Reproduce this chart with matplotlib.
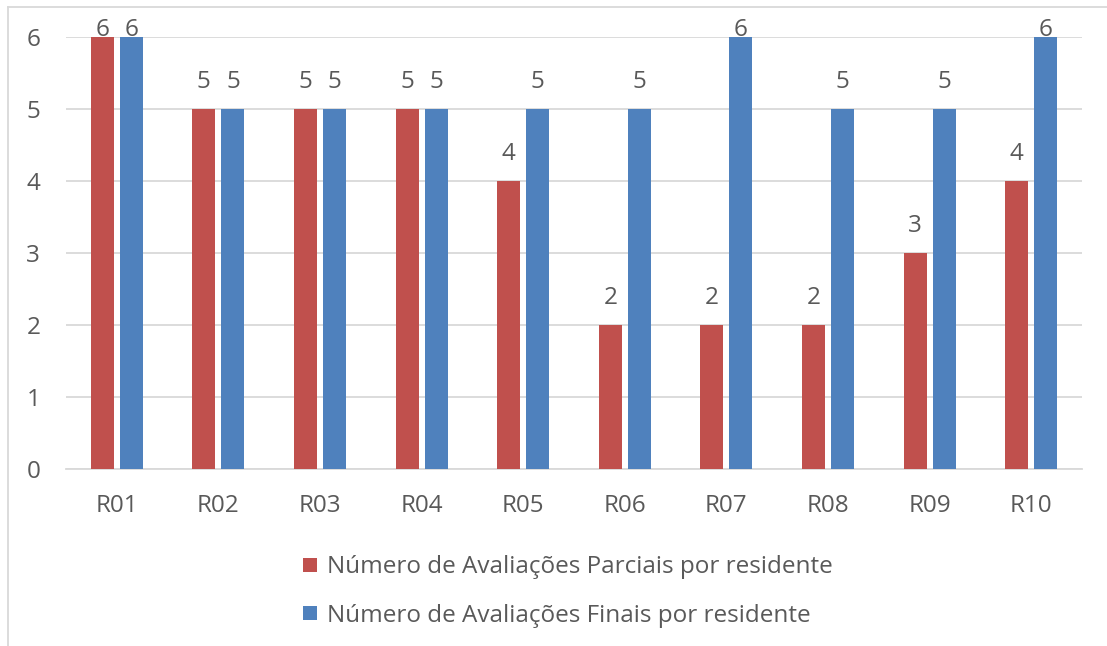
import matplotlib.pyplot as plt
from matplotlib.lines import Line2D
import numpy as np

residentes = ["R01", "R02", "R03", "R04", "R05", "R06", "R07", "R08", "R09", "R10"]
parciais = [6, 5, 5, 5, 4, 2, 2, 2, 3, 4]
finais = [6, 5, 5, 5, 5, 5, 6, 5, 5, 6]
nomes = ["Número de Avaliações Parciais por residente",
         "Número de Avaliações Finais por residente"]
cores = ["#C0504D", "#4F81BD"]
texto = "#595959"
grade = "#D9D9D9"

plt.rcParams['font.family'] = ['Open Sans', 'DejaVu Sans']

fig = plt.figure(figsize=(11.07, 6.46), dpi=100)
W, H = 1107, 646
ax = fig.add_axes([66 / W, 1 - 469 / H, (1082 - 66) / W, (469 - 37) / H])

x = np.arange(len(residentes))
largura = 0.226
desloc = 0.143
for serie, nome, cor, d in [(parciais, nomes[0], cores[0], -desloc),
                            (finais, nomes[1], cores[1], desloc)]:
    ax.bar(x + d, serie, largura, color=cor, label=nome, zorder=3)
    for xi, v in zip(x + d, serie):
        ax.text(xi, min(v + 0.375, 6.1), str(v), ha='center', va='center',
                fontsize=17.5, color=texto, zorder=4)

ax.set_xlim(-0.5, len(residentes) - 0.5)
ax.set_ylim(0, 6)
ax.set_yticks(range(0, 7))
ax.yaxis.grid(True, color=grade, linewidth=1.3, zorder=0)
ax.set_xticks(x)
ax.set_xticklabels(residentes)
ax.tick_params(axis='both', length=0, labelsize=17.5, colors=texto)
ax.tick_params(axis='y', pad=18.5)
ax.tick_params(axis='x', pad=18)
for s in ['left', 'right', 'top']:
    ax.spines[s].set_visible(False)
ax.spines['bottom'].set_color(grade)
ax.spines['bottom'].set_linewidth(1.3)

# moldura do gráfico
fig.add_artist(Line2D([8 / W, 8 / W], [0, 1 - 7 / H], color=grade, linewidth=1.3))
fig.add_artist(Line2D([8 / W, 1], [1 - 7 / H, 1 - 7 / H], color=grade, linewidth=1.3))

fig.legend(loc='upper left', bbox_to_anchor=(284 / W, 1 - 536 / H), frameon=False,
           fontsize=17.5, labelcolor=texto, handlelength=0.55, handleheight=0.55,
           handletextpad=0.4, labelspacing=1.0, borderpad=0.3)

fig.savefig("out.png", dpi=100)
